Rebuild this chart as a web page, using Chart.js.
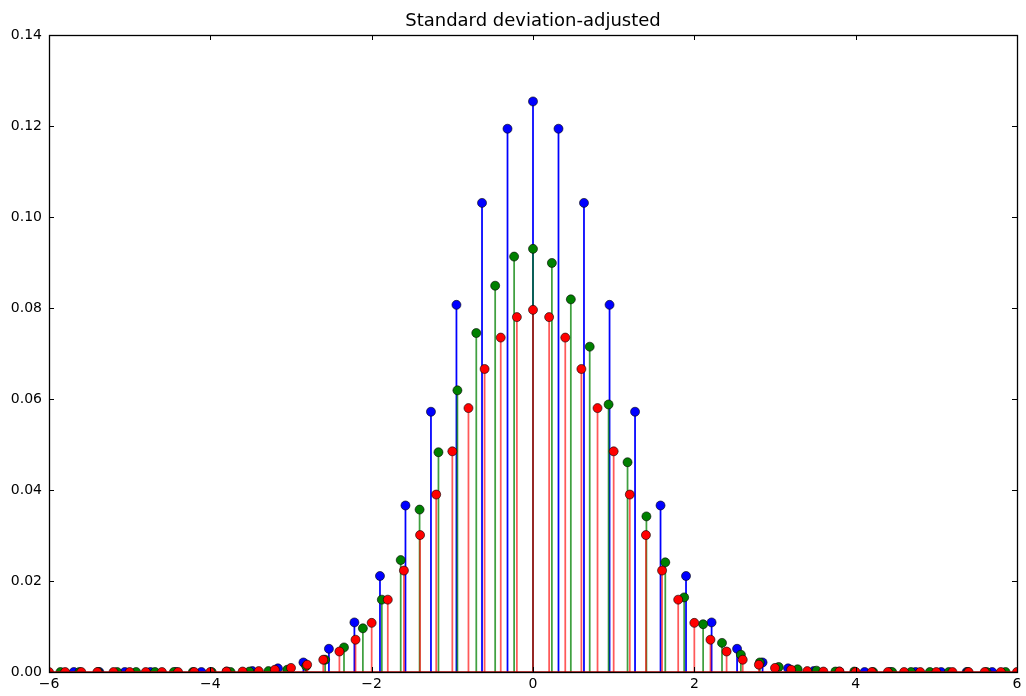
<!DOCTYPE html>
<html>
<head>
<meta charset="utf-8">
<script src="https://cdn.jsdelivr.net/npm/chart.js@4.4.0/dist/chart.umd.min.js"></script>
<style>
  body { margin: 0; background: #fff; }
  canvas { display: block; }
</style>
</head>
<body>
<canvas id="stemChart" width="1026" height="696"></canvas>
<script>

var titleText = "Standard deviation-adjusted";

var yTicks = [0, 0.02, 0.04, 0.06, 0.08, 0.10, 0.12, 0.14];
var xTicks = [-6, -4, -2, 0, 2, 4, 6];

var blueX = [-5.692, -5.376, -5.060, -4.743, -4.427, -4.111, -3.795, -3.479, -3.162, -2.846, -2.530, -2.214, -1.897, -1.581, -1.265, -0.949, -0.632, -0.316,
  0,
  0.316, 0.632, 0.949, 1.265, 1.581, 1.897, 2.214, 2.530, 2.846, 3.162, 3.479, 3.795, 4.111, 4.427, 4.743, 5.060, 5.376, 5.692];
var blueY = [0, 0, 0, 0, 0, 0, 0.0001, 0.0002, 0.0008, 0.0021, 0.0051, 0.0109, 0.0211, 0.0366, 0.0572, 0.0807, 0.1031, 0.1194,
  0.1254,
  0.1194, 0.1031, 0.0807, 0.0572, 0.0366, 0.0211, 0.0109, 0.0051, 0.0021, 0.0008, 0.0002, 0.0001, 0, 0, 0, 0, 0, 0];

var greenX = [-5.858, -5.623, -5.389, -5.155, -4.920, -4.686, -4.452, -4.217, -3.983, -3.749, -3.515, -3.280, -3.046, -2.812, -2.577, -2.343, -2.109, -1.874, -1.640, -1.406, -1.172, -0.937, -0.703, -0.469, -0.234,
  0,
  0.234, 0.469, 0.703, 0.937, 1.172, 1.406, 1.640, 1.874, 2.109, 2.343, 2.577, 2.812, 3.046, 3.280, 3.515, 3.749, 3.983, 4.217, 4.452, 4.686, 4.920, 5.155, 5.389, 5.623, 5.858];
var greenY = [0, 0, 0, 0, 0, 0, 0, 0, 0, 0, 0.0001, 0.0002, 0.0005, 0.0013, 0.0027, 0.0054, 0.0096, 0.0159, 0.0246, 0.0357, 0.0483, 0.0619, 0.0745, 0.0849, 0.0913,
  0.0930,
  0.0899, 0.0819, 0.0715, 0.0588, 0.0461, 0.0342, 0.0241, 0.0164, 0.0105, 0.0064, 0.0038, 0.0021, 0.0011, 0.0006, 0.0003, 0.0001, 0.0001, 0, 0, 0, 0, 0, 0, 0, 0];

var redX = [-6.0, -5.8, -5.6, -5.4, -5.2, -5.0, -4.8, -4.6, -4.4, -4.2, -4.0, -3.8, -3.6, -3.4, -3.2, -3.0, -2.8, -2.6, -2.4, -2.2, -2.0, -1.8, -1.6, -1.4, -1.2, -1.0, -0.8, -0.6, -0.4, -0.2,
  0,
  0.2, 0.4, 0.6, 0.8, 1.0, 1.2, 1.4, 1.6, 1.8, 2.0, 2.2, 2.4, 2.6, 2.8, 3.0, 3.2, 3.4, 3.6, 3.8, 4.0, 4.2, 4.4, 4.6, 4.8, 5.0, 5.2, 5.4, 5.6, 5.8, 6.0];
var redY = [0, 0, 0, 0, 0, 0, 0, 0, 0, 0, 0, 0.0001, 0.0001, 0.0002, 0.0005, 0.0009, 0.0016, 0.0027, 0.0045, 0.0071, 0.0108, 0.0159, 0.0223, 0.0301, 0.0390, 0.0485, 0.0580, 0.0666, 0.0735, 0.0780,
  0.0796,
  0.0780, 0.0735, 0.0666, 0.0580, 0.0485, 0.0390, 0.0301, 0.0223, 0.0159, 0.0108, 0.0071, 0.0045, 0.0027, 0.0016, 0.0009, 0.0005, 0.0002, 0.0001, 0.0001, 0, 0, 0, 0, 0, 0, 0, 0, 0, 0, 0];

var baseX = [-6, 6];
var baseY = [0, 0];

var fontName = "'DejaVu Sans', sans-serif";

function toPoints(xs, ys) {
  var pts = [];
  for (var i = 0; i < xs.length; i++) {
    pts.push({ x: xs[i], y: ys[i] });
  }
  return pts;
}

function stemSet(xs, ys, color, order) {
  return {
    type: "bar",
    data: toPoints(xs, ys),
    backgroundColor: color,
    borderWidth: 0,
    barThickness: 1.1,
    grouped: false,
    clip: 0,
    order: order
  };
}

function markerSet(xs, ys, color, order) {
  return {
    type: "scatter",
    data: toPoints(xs, ys),
    backgroundColor: color,
    borderColor: "#000",
    borderWidth: 0.6,
    pointRadius: 4.5,
    pointHoverRadius: 4.5,
    showLine: false,
    clip: 0,
    order: order
  };
}

// frame + inward ticks on all four sides, like matplotlib classic
var framePlugin = {
  id: "frame",
  afterDraw: function(chart) {
    var ctx = chart.ctx;
    var a = chart.chartArea;
    var xs = chart.scales.x;
    var ys = chart.scales.y;
    var len = 5;

    ctx.save();
    ctx.strokeStyle = "#000";
    ctx.lineWidth = 1;
    ctx.beginPath();
    for (var i = 0; i < xTicks.length; i++) {
      var px = Math.round(xs.getPixelForValue(xTicks[i])) + 0.5;
      ctx.moveTo(px, a.bottom);
      ctx.lineTo(px, a.bottom - len);
      ctx.moveTo(px, a.top);
      ctx.lineTo(px, a.top + len);
    }
    for (var j = 0; j < yTicks.length; j++) {
      var py = Math.round(ys.getPixelForValue(yTicks[j])) + 0.5;
      ctx.moveTo(a.left, py);
      ctx.lineTo(a.left + len, py);
      ctx.moveTo(a.right, py);
      ctx.lineTo(a.right - len, py);
    }
    ctx.stroke();

    ctx.lineWidth = 1.3;
    ctx.strokeRect(Math.round(a.left) + 0.5, Math.round(a.top) + 0.5,
      Math.round(a.right - a.left), Math.round(a.bottom - a.top));
    ctx.restore();
  }
};

function printStemChart() {

  var ctx = document.getElementById("stemChart").getContext("2d");

  var chart = new Chart(ctx, {
    type: "bar",
    data: {
      datasets: [
        stemSet(blueX, blueY, "#0000ff", 8),
        markerSet(blueX, blueY, "#0000ff", 7),
        stemSet(greenX, greenY, "rgba(0,128,0,0.75)", 6),
        markerSet(greenX, greenY, "#008000", 5),
        stemSet(redX, redY, "rgba(255,0,0,0.65)", 4),
        markerSet(redX, redY, "#ff0000", 3),
        {
          type: "line",
          data: toPoints(baseX, baseY),
          borderColor: "#b00000",
          borderWidth: 1.5,
          pointRadius: 0,
          clip: 0,
          order: 1
        }
      ]
    },
    options: {
      responsive: false,
      animation: false,
      devicePixelRatio: 1,
      layout: { padding: { left: 0, right: 9, top: 0, bottom: 0 } },
      plugins: {
        legend: { display: false },
        tooltip: { enabled: false },
        title: {
          display: true,
          fullSize: false,
          text: titleText,
          color: "#000",
          font: { family: fontName, size: 18, weight: "normal" },
          padding: { top: 11, bottom: 2.4 }
        }
      },
      scales: {
        x: {
          type: "linear",
          min: -6,
          max: 6,
          offset: false,
          afterBuildTicks: function(scale) {
            scale.ticks = xTicks.map(function(v) { return { value: v }; });
          },
          afterFit: function(scale) { scale.height = 24; },
          grid: { display: false, drawTicks: false },
          border: { display: false },
          ticks: {
            padding: 4,
            color: "#000",
            maxRotation: 0,
            font: { family: fontName, size: 14 },
            callback: function(v) {
              return v < 0 ? "\u2212" + Math.abs(v) : String(v);
            }
          }
        },
        y: {
          type: "linear",
          min: 0,
          max: 0.14,
          afterBuildTicks: function(scale) {
            scale.ticks = yTicks.map(function(v) { return { value: v }; });
          },
          afterFit: function(scale) { scale.width = 49; },
          grid: { display: false, drawTicks: false },
          border: { display: false },
          ticks: {
            padding: 7,
            color: "#000",
            font: { family: fontName, size: 14 },
            callback: function(v) { return v.toFixed(2); }
          }
        }
      }
    },
    plugins: [framePlugin]
  });
}

printStemChart();

</script>
</body>
</html>
